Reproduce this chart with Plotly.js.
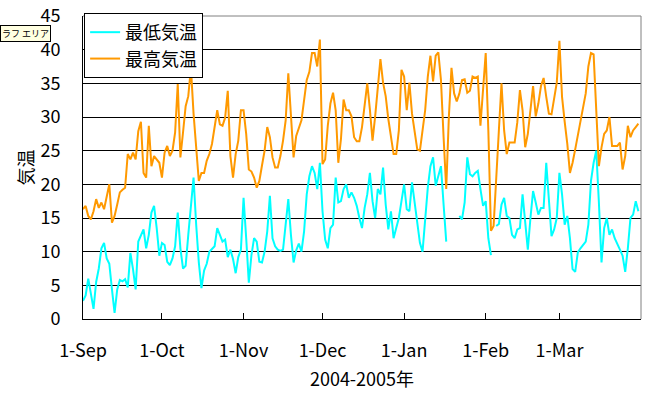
<!DOCTYPE html>
<html>
<head>
<meta charset="utf-8">
<script src="https://cdn.plot.ly/plotly-3.0.1.min.js"></script>
<style>html,body{margin:0;padding:0;background:#fff;}#chart{width:666px;height:398px;}</style>
</head>
<body>
<div id="chart"></div>
<script>
// Daily series, 1 Sep 2004 .. 31 Mar 2005 (212 days)
var startDate = '2004-09-01';
var seriesNames = ['最低気温', '最高気温'];
var tickDates = ['2004-09-01','2004-10-01','2004-11-01','2004-12-01','2005-01-01','2005-02-01','2005-03-01','2005-04-01'];
var tickLabels = ['1-Sep','1-Oct','1-Nov','1-Dec','1-Jan','1-Feb','1-Mar',''];
var yTicks = [0,5,10,15,20,25,30,35,40,45];

var minTemp = [
  2.7, 3.5, 6.0, 4.0, 1.5, 5.5, 7.5, 10.5, 11.3, 9.0,
  8.2, 4.4, 0.9, 4.4, 5.8, 5.6, 5.9, 4.7, 9.8, 7.4,
  4.4, 11.5, 12.3, 13.3, 10.5, 12.5, 15.8, 16.8, 13.5, 9.4,
  11.3, 11.0, 8.5, 8.0, 9.0, 10.8, 15.8, 10.5, 7.5, 7.9,
  12.5, 16.5, 21.0, 14.0, 8.4, 4.6, 7.2, 8.2, 10.0, 10.4,
  10.8, 13.5, 12.5, 11.5, 11.8, 9.2, 10.3, 8.9, 6.8, 9.2,
  10.3, 18.0, 12.0, 5.4, 9.5, 12.0, 11.5, 8.5, 8.4, 10.0,
  13.0, 18.3, 12.0, 10.8, 10.3, 10.1, 10.3, 14.0, 17.8, 12.5,
  8.4, 10.2, 11.2, 10.0, 13.0, 18.5, 21.2, 22.7, 21.7, 19.3,
  23.2, 16.0, 11.8, 10.5, 13.5, 14.0, 21.0, 17.3, 17.5, 19.3,
  20.0, 18.0, 18.8, 18.0, 16.8, 15.0, 13.5, 16.5, 18.5, 21.7,
  17.5, 15.0, 19.3, 18.5, 22.5, 17.0, 13.3, 16.0, 12.0, 13.5,
  15.0, 17.5, 20.0, 16.3, 16.0, 20.3, 17.3, 14.0, 11.3, 10.0,
  14.8, 19.5, 22.7, 24.0, 19.8, 21.2, 22.7, 17.0, 11.5, null,
  null, null, null, 15.3, 14.8, 17.3, 24.0, 21.5, 21.2, 21.7,
  22.0, 19.3, 16.8, 17.5, 12.0, 9.5, null, 13.8, 14.1, 17.0,
  18.0, 15.3, 15.0, 12.5, 12.0, 13.3, 13.5, 18.5, 14.5, 10.3,
  15.0, 19.0, 17.3, 15.5, 16.5, 16.5, 23.2, 17.3, 12.3, 13.3,
  15.0, 21.7, 18.5, 14.0, 15.3, 12.0, 7.4, 7.0, 9.9, 10.5,
  11.0, 11.5, 14.0, 20.5, 23.2, 25.0, 17.3, 8.4, 13.5, 15.0,
  12.5, 13.3, 12.0, 11.0, 10.3, 9.4, 7.0, 10.5, 15.0, 15.5,
  17.5, 16.0
];

var maxTemp = [
  16.3, 16.8, 15.3, 14.8, 16.0, 17.8, 16.5, 17.3, 16.3, 18.3,
  20.0, 14.3, 15.3, 17.0, 18.8, 19.2, 19.5, 24.5, 23.7, 24.7,
  23.7, 27.9, 29.3, 21.7, 21.0, 28.7, 22.7, 24.2, 23.7, 23.2,
  21.0, 24.7, 25.7, 24.2, 25.0, 27.7, 34.9, 24.0, 27.7, 31.6,
  33.1, 37.3, 30.5, 25.0, 20.5, 21.7, 21.7, 23.5, 24.5, 26.0,
  28.7, 31.0, 28.9, 28.7, 29.9, 33.9, 24.2, 21.0, 24.5, 26.5,
  31.0, 31.0, 27.5, 22.2, 21.9, 21.0, 19.5, 20.5, 22.8, 25.0,
  28.5, 27.0, 24.0, 22.5, 22.5, 24.2, 26.5, 29.5, 36.5, 30.0,
  24.0, 27.2, 28.5, 29.5, 32.5, 35.5, 36.7, 39.5, 39.5, 37.5,
  41.5, 23.0, 23.7, 28.7, 32.0, 33.6, 31.0, 23.2, 26.7, 32.6,
  31.0, 31.0, 30.1, 27.0, 26.4, 26.4, 28.5, 31.6, 35.0, 31.1,
  26.5, 30.1, 35.0, 38.6, 35.1, 33.1, 29.7, 27.2, 24.5, 24.5,
  28.0, 37.0, 36.0, 31.0, 35.1, 30.5, 27.7, 25.2, 25.0, 28.0,
  31.0, 36.0, 39.1, 35.3, 39.1, 39.6, 35.5, 27.0, 19.3, 30.0,
  37.3, 33.5, 32.3, 33.5, 35.5, 35.6, 33.6, 33.9, 36.0, 35.8,
  36.0, 28.7, 34.5, 39.5, 28.0, 13.1, 13.8, 22.0, 28.0, 35.0,
  28.0, 24.5, 26.2, 26.2, 26.2, 29.2, 34.0, 31.0, 25.5, 27.5,
  31.0, 34.6, 30.1, 32.0, 34.6, 35.8, 33.0, 30.5, 30.4, 33.0,
  35.1, 41.3, 33.0, 29.3, 26.0, 21.7, 23.2, 25.2, 27.2, 29.0,
  31.0, 33.5, 37.5, 39.5, 39.3, 31.0, 22.7, 25.5, 27.5, 28.0,
  30.0, 25.7, 25.7, 25.7, 26.2, 22.2, 24.2, 28.7, 27.0, 28.0,
  28.5, 29.0
];

function buildDates(start, n) {
  var p = start.split('-');
  var t0 = Date.UTC(+p[0], +p[1] - 1, +p[2]);
  var out = [];
  for (var i = 0; i < n; i++) {
    var d = new Date(t0 + i * 86400000);
    var m = d.getUTCMonth() + 1, dd = d.getUTCDate();
    out.push(d.getUTCFullYear() + '-' + (m < 10 ? '0' : '') + m + '-' + (dd < 10 ? '0' : '') + dd);
  }
  return out;
}
var dates = buildDates(startDate, maxTemp.length);

var FONT = '"Noto Sans CJK JP", "Noto Sans", sans-serif';

var traces = [
  { x: dates, y: minTemp, name: seriesNames[0], type: 'scatter', mode: 'lines',
    line: { color: '#00FFFF', width: 2 }, connectgaps: false },
  { x: dates, y: maxTemp, name: seriesNames[1], type: 'scatter', mode: 'lines',
    line: { color: '#FF9900', width: 2 }, connectgaps: false }
];

var layout = {
  width: 666, height: 398,
  margin: { l: 83, r: 25, t: 16, b: 79, pad: 0 },
  paper_bgcolor: '#ffffff', plot_bgcolor: '#ffffff',
  font: { family: FONT, size: 18, color: '#000' },
  showlegend: true,
  legend: {
    x: 0.002, y: 1.01, xanchor: 'left', yanchor: 'top',
    bgcolor: '#ffffff', bordercolor: '#000000', borderwidth: 1,
    font: { family: FONT, size: 18, color: '#000' },
    tracegroupgap: 0
  },
  xaxis: {
    type: 'date',
    range: ['2004-09-01', '2005-04-01'],
    tickmode: 'array', tickvals: tickDates, ticktext: tickLabels,
    ticks: 'inside', ticklen: 6, tickcolor: '#000', tickwidth: 1,
    showline: true, linecolor: '#000', linewidth: 1,
    showgrid: false, zeroline: false,
    tickfont: { family: FONT, size: 18, color: '#000' },
    ticklabelstandoff: 15,
    title: { text: '2004-2005年', font: { family: FONT, size: 18, color: '#000' }, standoff: 12 },
    automargin: false, fixedrange: true
  },
  yaxis: {
    range: [0, 45],
    tickmode: 'array', tickvals: yTicks,
    ticks: '', showline: true, linecolor: '#000', linewidth: 1,
    showgrid: true, gridcolor: '#000', gridwidth: 1,
    zeroline: false,
    tickfont: { family: FONT, size: 18, color: '#000' },
    ticklabelstandoff: 18,
    title: { text: '気温', font: { family: FONT, size: 18, color: '#000' }, standoff: 2 },
    automargin: false, fixedrange: true
  },
  shapes: [
    { type: 'line', xref: 'paper', yref: 'paper', x0: 0, x1: 1, y0: 1, y1: 1,
      line: { color: '#808080', width: 1 }, layer: 'above' },
    { type: 'line', xref: 'paper', yref: 'paper', x0: 1, x1: 1, y0: 0, y1: 1,
      line: { color: '#808080', width: 1 }, layer: 'above' }
  ],
  annotations: [
    { xref: 'paper', yref: 'paper', x: -0.148, y: 0.97, xanchor: 'left', yanchor: 'top',
      text: 'ラフ エリア', showarrow: false,
      font: { family: FONT, size: 9, color: '#000' },
      bgcolor: '#ffffe1', bordercolor: '#000', borderwidth: 1, borderpad: 1 }
  ]
};

Plotly.newPlot('chart', traces, layout, { displayModeBar: false, staticPlot: true });
</script>
</body>
</html>
